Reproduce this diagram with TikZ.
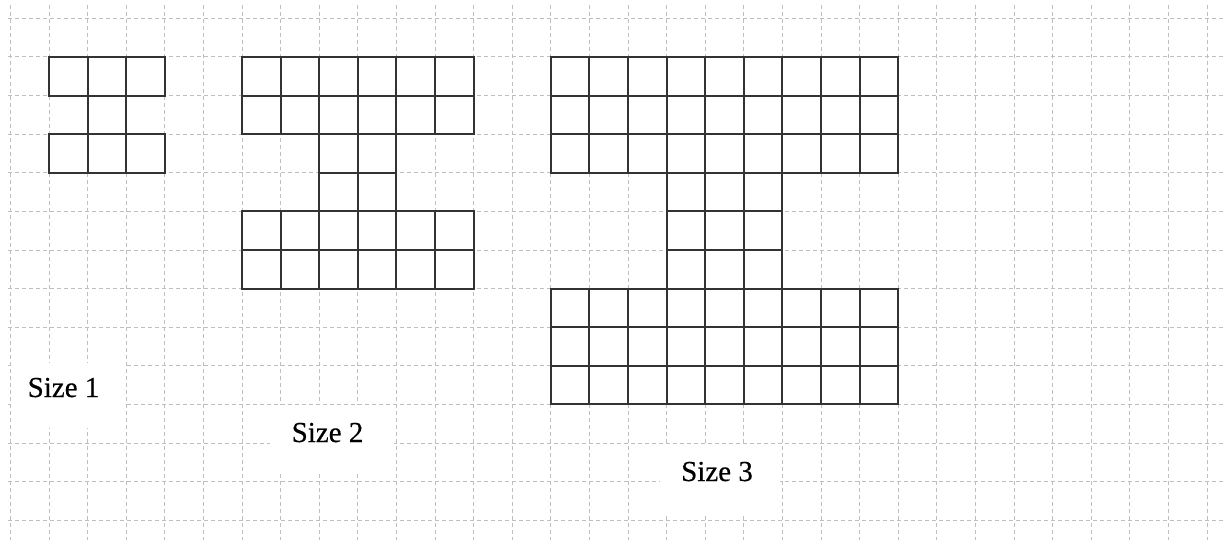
\documentclass[tikz,border=0pt]{standalone}
\usepackage{fontspec}
\setmainfont{Liberation Serif}
\tikzset{
  bggrid/.style={draw=black!25, line width=0.5pt, dash pattern=on 2pt off 1.5pt},
  cellline/.style={draw=black!80, line width=1pt},
  labelbox/.style={fill=white, draw=none},
  sizelabel/.style={font=\fontsize{14.5}{17}\selectfont\addfontfeature{FakeBold=0.4}, anchor=base, inner sep=0pt}
}
\begin{document}
\begin{tikzpicture}[x=0.5pt, y=-0.5pt]
\useasboundingbox[fill=white] (0,0) rectangle (1225,540);
% background grid
\foreach \i in {-1,...,30} \draw[bggrid] ({49+\i*38.6},5) -- ({49+\i*38.6},540);
\foreach \j in {-1,...,12} \draw[bggrid] (8,{57+\j*38.6}) -- (1225,{57+\j*38.6});
% white boxes behind labels
\fill[labelbox] (11,363) rectangle (126,428);
\fill[labelbox] (270,405) rectangle (394,471);
\fill[labelbox] (660,446) rectangle (780,513);
% shapes
\begin{scope}[shift={(49,57)}, x=19.3pt, y=-19.3pt]
  % size 1
  \foreach \c in {0,1,2} {
    \draw[cellline] (\c,0) rectangle (\c+1,1);
    \draw[cellline] (\c,2) rectangle (\c+1,3);
  }
  \draw[cellline] (1,1) rectangle (2,2);
  % size 2
  \foreach \c in {0,...,5} \foreach \r in {0,1,4,5}
    \draw[cellline] (5+\c,\r) rectangle (6+\c,\r+1);
  \foreach \c in {2,3} \foreach \r in {2,3}
    \draw[cellline] (5+\c,\r) rectangle (6+\c,\r+1);
  % size 3
  \foreach \c in {0,...,8} \foreach \r in {0,1,2,6,7,8}
    \draw[cellline] (13+\c,\r) rectangle (14+\c,\r+1);
  \foreach \c in {3,4,5} \foreach \r in {3,4,5}
    \draw[cellline] (13+\c,\r) rectangle (14+\c,\r+1);
\end{scope}
% labels
\node[sizelabel] (s1) at (63.5,397) {Size 1};
\node[sizelabel] (s2) at (327.5,442) {Size 2};
\node[sizelabel] (s3) at (717,481) {Size 3};
\end{tikzpicture}
\end{document}
